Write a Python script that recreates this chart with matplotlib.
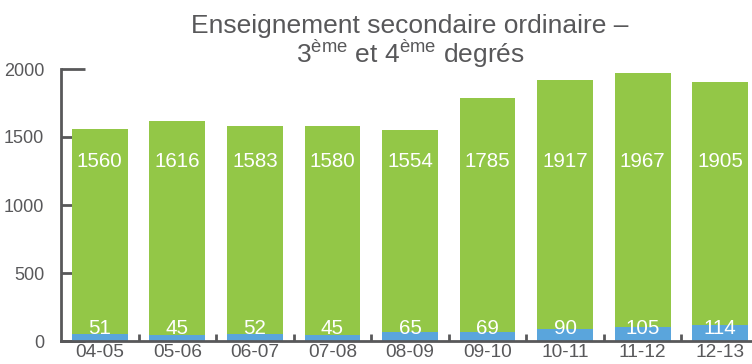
import matplotlib
matplotlib.use('Agg')
import matplotlib.pyplot as plt
import numpy as np

plt.rcParams['font.family'] = ['Liberation Sans', 'DejaVu Sans']
plt.rcParams['mathtext.fontset'] = 'custom'
plt.rcParams['mathtext.rm'] = 'Liberation Sans'

years = ['04-05', '05-06', '06-07', '07-08', '08-09', '09-10', '10-11', '11-12', '12-13']
ordinaire = [1560, 1616, 1583, 1580, 1554, 1785, 1917, 1967, 1905]
autres = [51, 45, 52, 45, 65, 69, 90, 105, 114]

green = '#93c747'
blue = '#5aa5dc'
grey = '#58585a'

fig = plt.figure(figsize=(7.52, 3.64), dpi=100)
ax = fig.add_axes([61/752, 23/364, 698/752, 272/364])

x = np.arange(len(years))
ax.bar(x, ordinaire, width=0.72, color=green, zorder=2)
ax.bar(x, autres, width=0.72, color=blue, zorder=3)

for i in range(len(years)):
    ax.text(x[i], 1320, str(ordinaire[i]), ha='center', va='center',
            color='white', fontsize=14.8, zorder=4)
    ax.text(x[i], 95, str(autres[i]), ha='center', va='center',
            color='white', fontsize=14.8, zorder=4)

ax.set_xlim(-0.5, len(years) - 0.5)
ax.set_ylim(0, 2000)
ax.set_yticks([0, 500, 1000, 1500, 2000])
ax.set_xticks(x)
ax.set_xticklabels(years)
ax.set_xticks(x[:-1] + 0.5, minor=True)

for s in ['top', 'right']:
    ax.spines[s].set_visible(False)
for s in ['left', 'bottom']:
    ax.spines[s].set_color(grey)
    ax.spines[s].set_linewidth(2)
    ax.spines[s].set_zorder(5)

ax.tick_params(axis='y', direction='in', length=17, width=2, color=grey,
               labelsize=13, labelcolor=grey, pad=12)
ax.tick_params(axis='x', which='major', length=0, labelsize=13.8,
               labelcolor=grey, pad=2)
ax.tick_params(axis='x', which='minor', direction='in', length=5, width=2,
               color=grey)

fig.text(410/752, 1 - 33/364, 'Enseignement secondaire ordinaire \u2013',
         ha='center', va='baseline', fontsize=19, color=grey)
fig.text(410/752, 1 - 63/364, r'3$^{\mathrm{ème}}$ et 4$^{\mathrm{ème}}$ degrés',
         ha='center', va='baseline', fontsize=19, color=grey)

fig.savefig('out.png', dpi=100)
